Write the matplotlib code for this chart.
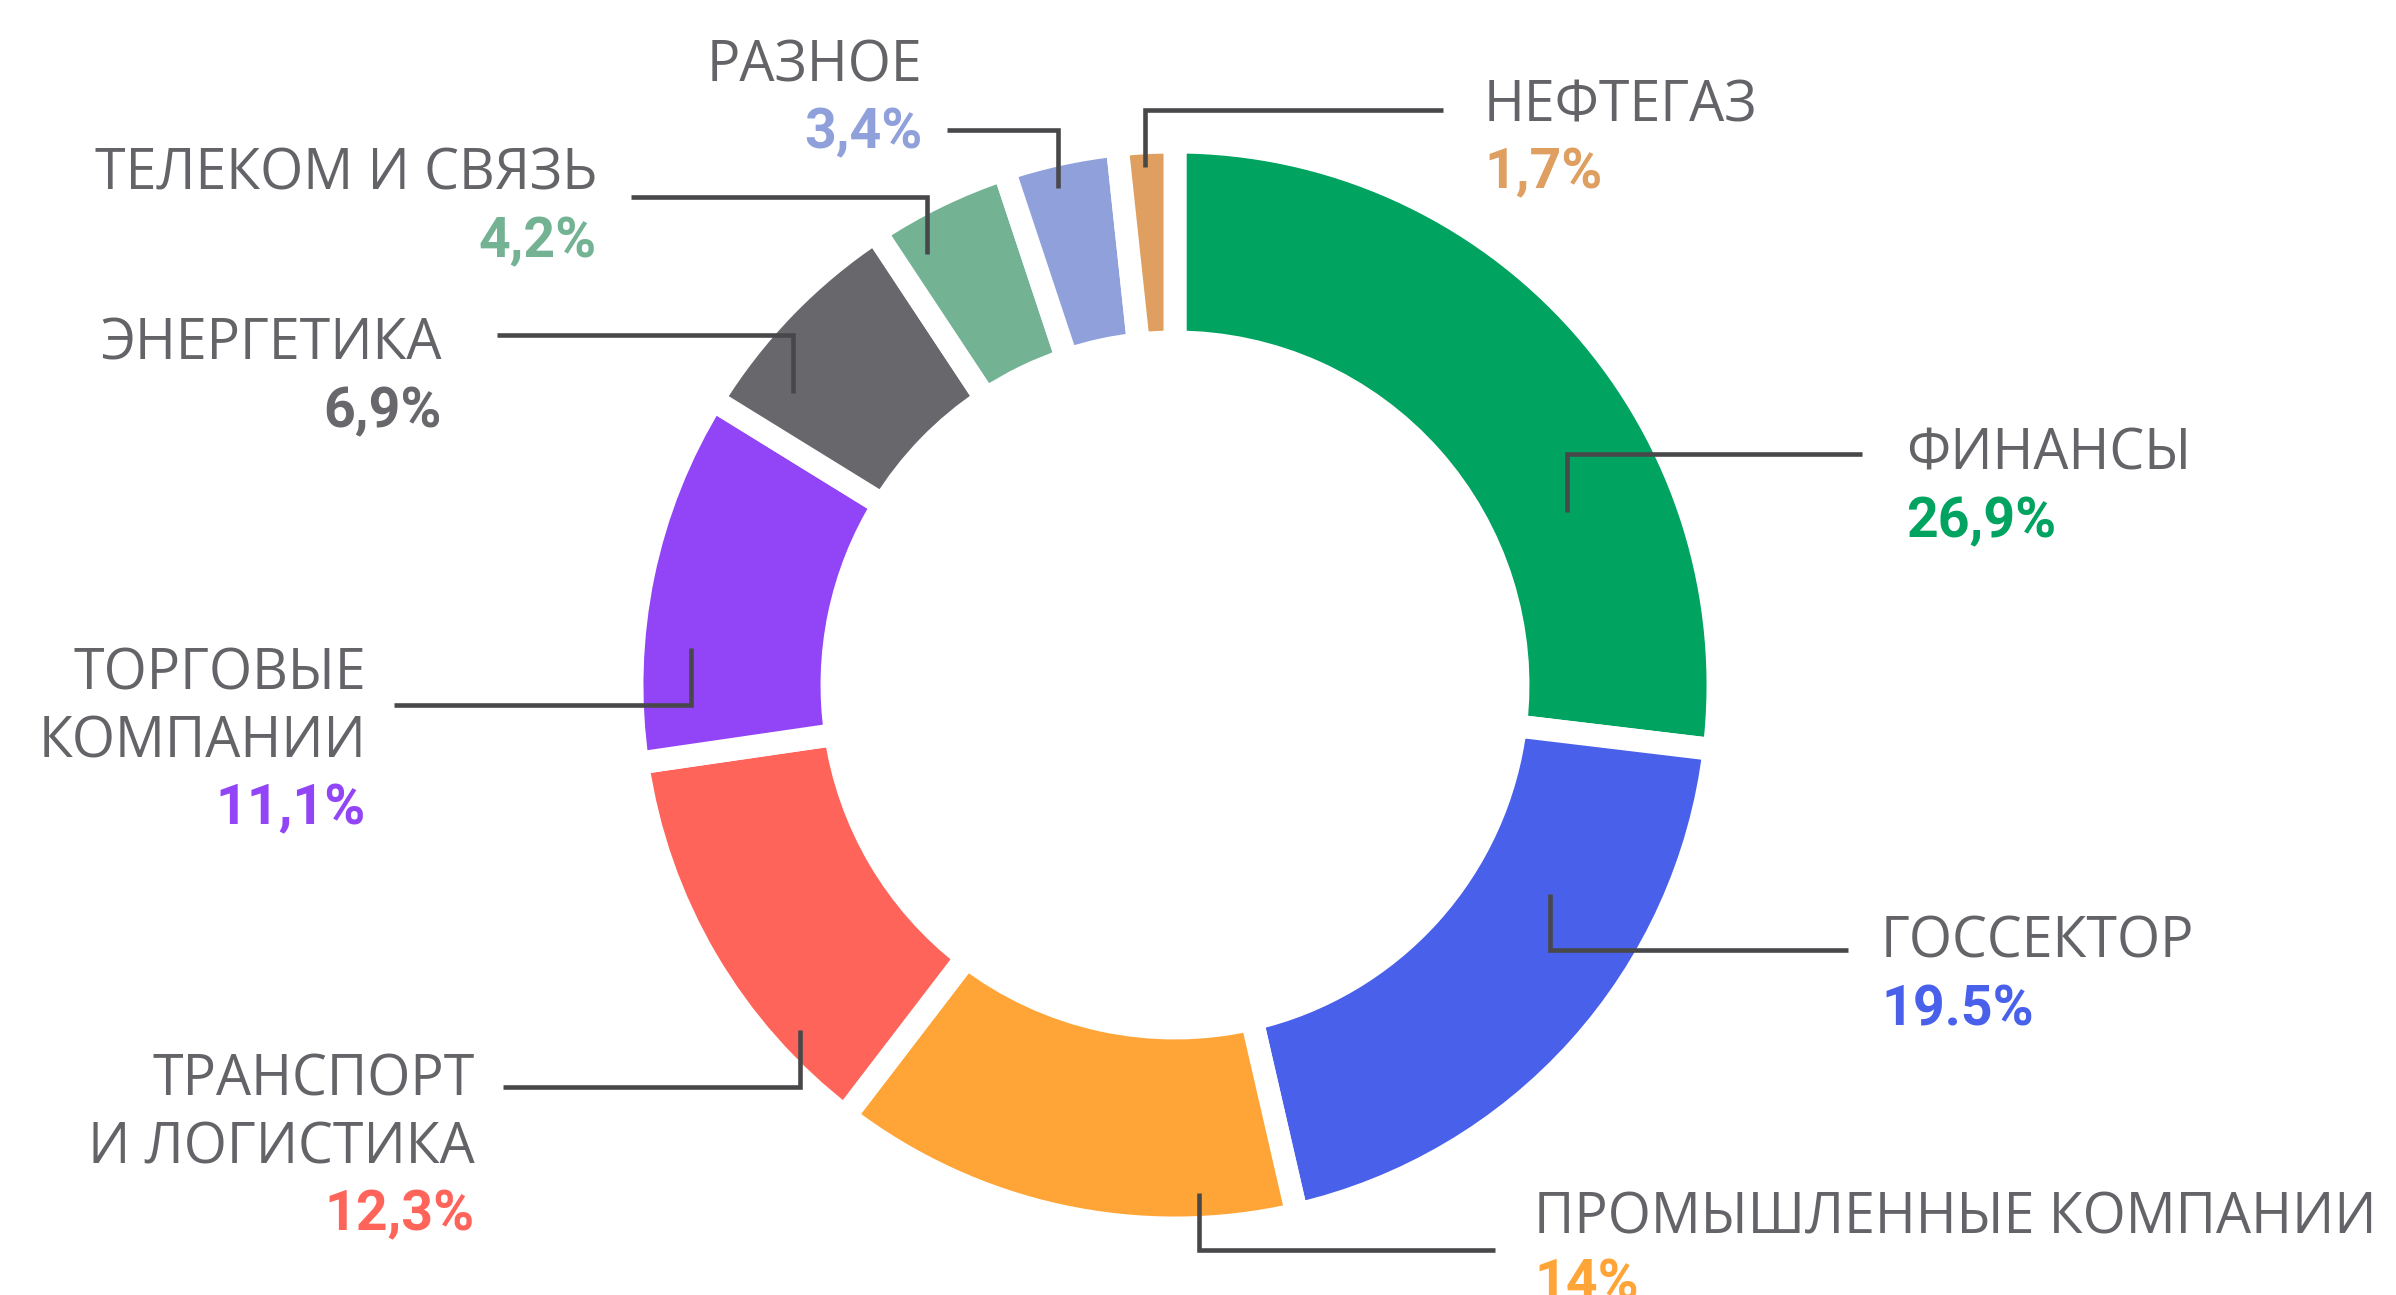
import matplotlib
matplotlib.use('Agg')
import matplotlib.pyplot as plt

plt.rcParams['font.family'] = ['Open Sans', 'DejaVu Sans']

# data ------------------------------------------------------------
sectors = ['ФИНАНСЫ', 'ГОССЕКТОР', 'ПРОМЫШЛЕННЫЕ КОМПАНИИ', 'ТРАНСПОРТ\nИ ЛОГИСТИКА',
           'ТОРГОВЫЕ\nКОМПАНИИ', 'ЭНЕРГЕТИКА', 'ТЕЛЕКОМ И СВЯЗЬ', 'РАЗНОЕ', 'НЕФТЕГАЗ']
shares = [26.9, 19.5, 14, 12.3, 11.1, 6.9, 4.2, 3.4, 1.7]
share_labels = ['26,9%', '19.5%', '14%', '12,3%', '11,1%', '6,9%', '4,2%', '3,4%', '1,7%']
colors = ['#00a35f', '#4860ea', '#ffa537', '#ff645a', '#9145f7',
          '#68676c', '#73b394', '#8fa0db', '#de9f60']

# layout (pixel coords, y down) -----------------------------------
# text x, alignment, first baseline
text_pos = [(1906, 'left', 470), (1881, 'left', 958), (1534, 'left', 1233),
            (475, 'right', 1096), (366, 'right', 690), (442, 'right', 360),
            (597, 'right', 190), (922, 'right', 81), (1484, 'left', 121)]
# leader: outer x, corner x, horizontal y, tip y
leaders = [(1862, 1567, 454, 512), (1848, 1550, 950, 894), (1495, 1199, 1250, 1193),
           (503, 800, 1087, 1030), (394, 691, 705, 648), (497, 793, 335, 393),
           (631, 927, 197, 254), (947, 1058, 130, 188), (1443, 1145, 110, 167)]
step = 67
text_gray = '#646468'
line_gray = '#48484a'

W, H = 2396, 1295
fig = plt.figure(figsize=(W / 100, H / 100), dpi=100)
ax = fig.add_axes([0, 0, 1, 1])

# donut (y axis inverted -> counterclock in data = clockwise on screen)
ax.pie(shares, colors=colors, startangle=-90, counterclock=True,
       radius=543, center=(1175, 685),
       wedgeprops=dict(width=200, edgecolor='white', linewidth=16.5))

ax.set_xlim(0, W)
ax.set_ylim(H, 0)
ax.set_aspect('equal')
ax.axis('off')

# leader lines
for x0, xc, yh, yt in leaders:
    ax.plot([x0, xc, xc], [yh, yh, yt], color=line_gray, lw=3.3,
            solid_joinstyle='miter', solid_capstyle='butt')

# labels
for name, pct, col, (tx, ha, y0) in zip(sectors, share_labels, colors, text_pos):
    lines = name.split('\n')
    for i, ln in enumerate(lines):
        ax.text(tx, y0 + i * step, ln, ha=ha, va='baseline', fontsize=40,
                color=text_gray)
    ax.text(tx, y0 + len(lines) * step, pct, ha=ha, va='baseline', fontsize=40,
            color=col, fontweight='bold', family=['Roboto', 'DejaVu Sans'])

fig.savefig('out.png', dpi=100)
